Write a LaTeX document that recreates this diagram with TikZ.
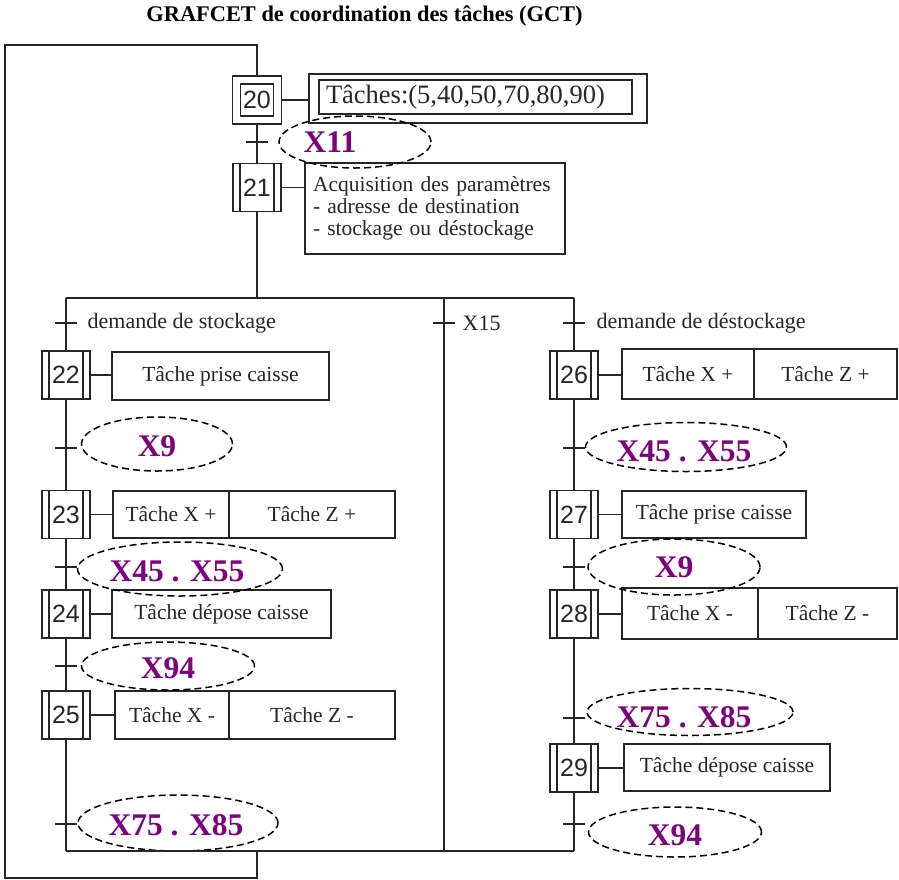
\documentclass[tikz,border=0pt]{standalone}
\usepackage{fontspec}
\setmainfont{Liberation Serif}
\newfontfamily\numfont{Liberation Sans}
\usepackage{tikz}
\usetikzlibrary{shapes.geometric,positioning}
\definecolor{recepcolor}{RGB}{128,0,128}

\begin{document}
\begin{tikzpicture}
 		[
 		x=1pt, y=-1pt,
 		line width=1.3pt, color=black!85,
 		etape/.style = {draw, minimum width=48pt, minimum height=48pt, inner sep=0pt,
 			font=\numfont\fontsize{25}{25}\selectfont,
 			path picture={
 				\draw ([xshift=7pt]path picture bounding box.north west) -- ([xshift=7pt]path picture bounding box.south west);
 				\draw ([xshift=-7pt]path picture bounding box.north east) -- ([xshift=-7pt]path picture bounding box.south east);
 			}},
 		etape init/.style = {draw, minimum width=49pt, minimum height=48pt, inner sep=0pt,
 			font=\numfont\fontsize{25}{25}\selectfont,
 			path picture={
 				\draw ([shift={(8pt,-8pt)}]path picture bounding box.north west) rectangle ([shift={(-8pt,8pt)}]path picture bounding box.south east);
 			}},
 		tache/.style = {draw, outer sep=0pt, inner sep=2pt, minimum height=48pt,
 			font=\fontsize{21.5}{22}\selectfont},
 		recep/.style = {draw=black, ellipse, dash pattern=on 7pt off 4pt, line width=1.5pt, inner sep=0pt},
 		recep txt/.style = {text=recepcolor, font=\bfseries\fontsize{31.5}{31.5}\selectfont},
 		cond/.style = {font=\fontsize{22}{22}\selectfont, inner sep=3pt}
 		]
 		
 		\useasboundingbox (0,0) rectangle (899,879);
 		
 		\node[anchor=base, text=black, font=\bfseries\fontsize{22.4}{24}\selectfont] (titre) at (364.5,21.5)
 			{GRAFCET de coordination des tâches (GCT)};
 		
 		% etapes
 		\node[etape init] (e20) at (257,100) {20};
 		\node[etape] (e21) at (257,187.5) {21};
 		\node[etape] (e22) at (66,375) {22};
 		\node[etape] (e23) at (66,514.5) {23};
 		\node[etape] (e24) at (66,614) {24};
 		\node[etape] (e25) at (66,715) {25};
 		\node[etape] (e26) at (574,375) {26};
 		\node[etape] (e27) at (574,514.5) {27};
 		\node[etape] (e28) at (574,614) {28};
 		\node[etape] (e29) at (574,768) {29};
 		
 		% actions
 		\node[tache, minimum width=338pt, minimum height=49pt] (a20) at (478,98.5) {};
 		\node[tache, line width=1.6pt, minimum height=34pt, text width=299pt, inner xsep=7pt, align=left,
 			font=\fontsize{26.5}{27}\selectfont] (a20t) at (475.5,97) {Tâches:(5,40,50,70,80,90)};
 		\node[tache, minimum height=91pt, text width=244pt, inner xsep=8pt, align=left] (a21) at (435,208.5)
 			{Acquisition des paramètres\\- adresse de destination\\- stockage ou déstockage};
 		\node[tache, minimum width=217pt] (a22) at (220.5,376) {Tâche prise caisse};
 		\node[tache, minimum width=116pt, minimum height=47pt] (a23x) at (171,514.5) {Tâche X +};
 		\node[tache, minimum width=166pt, minimum height=47pt, right=0pt of a23x] (a23z) {Tâche Z +};
 		\node[tache, minimum width=219pt] (a24) at (221.5,614) {Tâche dépose caisse};
 		\node[tache, minimum width=114pt] (a25x) at (172,715) {Tâche X -};
 		\node[tache, minimum width=166pt, right=0pt of a25x] (a25z) {Tâche Z -};
 		\node[tache, minimum width=132pt, minimum height=50pt] (a26x) at (688,374) {Tâche X +};
 		\node[tache, minimum width=143pt, minimum height=50pt, right=0pt of a26x] (a26z) {Tâche Z +};
 		\node[tache, minimum width=184pt, minimum height=47pt] (a27) at (714,514.5) {Tâche prise caisse};
 		\node[tache, minimum width=136pt, minimum height=51pt] (a28x) at (690,613.5) {Tâche X -};
 		\node[tache, minimum width=139pt, minimum height=51pt, right=0pt of a28x] (a28z) {Tâche Z -};
 		\node[tache, minimum width=206pt, minimum height=47pt] (a29) at (727,767.5) {Tâche dépose caisse};
 		
 		\foreach \e/\a in {e20/a20, e21/a21, e22/a22, e23/a23x, e24/a24, e25/a25x, e26/a26x, e27/a27, e28/a28x, e29/a29}
 			\draw (\e.east) -- (\e.east -| \a.west);
 		
 		% transitions
 		\coordinate (t20) at (257,142);
 		\coordinate (t21g) at (66,323);
 		\coordinate (t21m) at (444,323);
 		\coordinate (t21d) at (574,323);
 		\coordinate (t22) at (66,448);
 		\coordinate (t23) at (66,567);
 		\coordinate (t24) at (66,666);
 		\coordinate (t25) at (66,824);
 		\coordinate (t26) at (574,448);
 		\coordinate (t27) at (574,567);
 		\coordinate (t28) at (574,718);
 		\coordinate (t29) at (574,824);
 		\foreach \t in {t20,t21g,t21m,t21d,t22,t23,t24,t25,t26,t27,t28,t29}
 			\draw ([xshift=-11pt]\t) -- ([xshift=11pt]\t);
 		
 		\node[cond, anchor=west, right=18pt of t21g] (c21g) {demande de stockage};
 		\node[cond, anchor=west, right=15pt of t21m] (c21m) {X15};
 		\node[cond, anchor=west, right=19pt of t21d] (c21d) {demande de déstockage};
 		
 		% receptivites
 		\node[recep, minimum width=152pt, minimum height=52pt, label={[recep txt, xshift=-25pt]center:X11}] (r20) at (355,142) {};
 		\node[recep, minimum width=151pt, minimum height=54pt, label={[recep txt, yshift=-2pt]center:X9}] (r22) at (157,444) {};
 		\node[recep, minimum width=205pt, minimum height=54pt, label={[recep txt, xshift=-3pt, yshift=-2pt]center:X45 . X55}] (r23) at (180,569) {};
 		\node[recep, minimum width=173pt, minimum height=48pt, label={[recep txt, yshift=-2pt]center:X94}] (r24) at (168,666) {};
 		\node[recep, minimum width=200pt, minimum height=56pt, label={[recep txt, xshift=-2pt, yshift=-2pt]center:X75 . X85}] (r25) at (178,823) {};
 		\node[recep, minimum width=201pt, minimum height=49pt, label={[recep txt, xshift=-2pt, yshift=-4pt]center:X45 . X55}] (r26) at (686,447) {};
 		\node[recep, minimum width=172pt, minimum height=56pt, label={[recep txt]center:X9}] (r27) at (674,567) {};
 		\node[recep, minimum width=206pt, minimum height=47pt, label={[recep txt, xshift=-6pt, yshift=-5pt]center:X75 . X85}] (r28) at (690,712) {};
 		\node[recep, minimum width=173pt, minimum height=50pt, label={[recep txt, yshift=-3pt]center:X94}] (r29) at (675,832) {};
 		
 		% liaisons
 		\coordinate (div) at (257,298);
 		\coordinate (dG) at (66,298);
 		\coordinate (dM) at (444,298);
 		\coordinate (dD) at (574,298);
 		\coordinate (conv) at (257,851);
 		\coordinate (cG) at (66,851);
 		\coordinate (cM) at (444,851);
 		\coordinate (cD) at (574,851);
 		\coordinate (ret1) at (257,878);
 		\coordinate (ret2) at (5,878);
 		\coordinate (ret3) at (5,45);
 		\coordinate (ret4) at (257,45);
 		
 		\draw (e20) -- (e21) -- (div);
 		\draw (dG) -- (dD);
 		\draw (dG) -- (e22) -- (e23) -- (e24) -- (e25) -- (cG);
 		\draw (dM) -- (cM);
 		\draw (dD) -- (e26) -- (e27) -- (e28) -- (e29) -- (cD);
 		\draw (cG) -- (cD);
 		\draw (conv) -- (ret1) -- (ret2) -- (ret3) -- (ret4) -- (e20);
 		
 		\end{tikzpicture}
\end{document}
